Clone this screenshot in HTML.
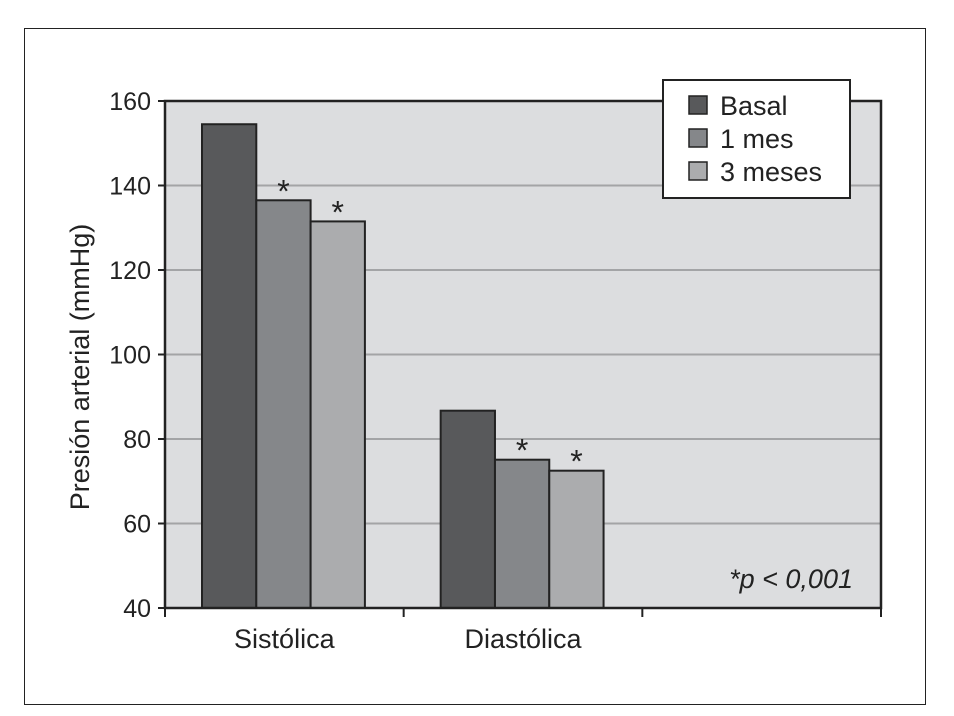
<!DOCTYPE html>
<html><head><meta charset="utf-8"><style>
body{margin:0;background:#fff;}
svg{display:block;font-family:"Liberation Sans",sans-serif;}
</style></head><body>
<svg id="c" width="954" height="716">
<rect x="24.5" y="28.5" width="901" height="676" fill="#fff" stroke="#222" stroke-width="1"/>
</svg>
<script>
const categories=["Sistólica","Diastólica"];
const seriesNames=["Basal","1 mes","3 meses"];
const basal=[154.5,86.7];
const mes1=[136.5,75.1];
const mes3=[131.5,72.5];
const starred=[[false,true,true],[false,true,true]];
const yTicks=[40,60,80,100,120,140,160];
const colors=["#58595b","#85878a","#abacae"];
const NS="http://www.w3.org/2000/svg";
const svg=document.getElementById('c');
const X0=165,X1=881,Y0=608,Y1=101;
const y=v=>Y0-(v-40)/(160-40)*(Y0-Y1);
const catW=(X1-X0)/3;
function mk(t,a,p){const e=document.createElementNS(NS,t);for(const k in a)e.setAttribute(k,a[k]);(p||svg).appendChild(e);return e;}
let bg=mk('rect',{x:X0,y:Y1,width:X1-X0,height:Y0-Y1,fill:'#dcdddf'});


yTicks.forEach(t=>{
 if(t>40&&t<160){let g=mk('line',{x1:X0,x2:X1,y1:y(t),y2:y(t),stroke:'#a3a4a6','stroke-width':2});
 
 }
 let tk=mk('line',{x1:X0-7,x2:X0,y1:y(t),y2:y(t),stroke:'#222','stroke-width':2});
 
 
 let tx=mk('text',{x:X0-14,y:y(t)+9,'text-anchor':'end','font-size':25,fill:'#222'});tx.textContent=t;
 
 
});
const series=[basal,mes1,mes3];
const bw=54.3;
categories.forEach((c,i)=>{
 const gx=X0+i*catW+37;
 series.forEach((s,j)=>{
  const bx=gx+j*bw;
  let r=mk('rect',{x:bx,y:y(s[i]),width:bw,height:Y0-y(s[i]),fill:colors[j],stroke:'#222','stroke-width':2});
  
  
  if(starred[i][j]){let st=mk('text',{x:bx+bw/2,y:y(s[i])+2,'text-anchor':'middle','font-size':32,fill:'#222'});st.textContent='*';
  
  }
 });
 let cl=mk('text',{x:X0+i*catW+catW/2,y:648,'text-anchor':'middle','font-size':27,fill:'#222'});cl.textContent=c;
 
 
});
for(let k=0;k<=3;k++){let t=mk('line',{x1:X0+k*catW,x2:X0+k*catW,y1:Y0,y2:Y0+9,stroke:'#222','stroke-width':2});
 
 }
let fr=mk('path',{d:`M${X0} ${Y0}V${Y1}H${X1}V${Y0}Z`,fill:'none',stroke:'#222','stroke-width':2.5});


let yt=mk('text',{transform:'translate(89,367) rotate(-90)','text-anchor':'middle','font-size':27,fill:'#222'});yt.textContent='Presión arterial (mmHg)';


let pv=mk('text',{x:853,y:588,'text-anchor':'end','font-size':27,'font-style':'italic',fill:'#222'});pv.textContent='*p < 0,001';


let lg=mk('g',{});


mk('rect',{x:663,y:80,width:187,height:118,fill:'#fff',stroke:'#222','stroke-width':2},lg);
seriesNames.forEach((n,j)=>{
 let e=mk('g',{},lg);
 
 
 mk('rect',{x:689,y:96+j*33,width:18,height:18,fill:colors[j],stroke:'#222','stroke-width':1.5},e);
 let t=mk('text',{x:720,y:115+j*33,'font-size':27,fill:'#222'},e);t.textContent=n;
});
</script>
</body></html>
